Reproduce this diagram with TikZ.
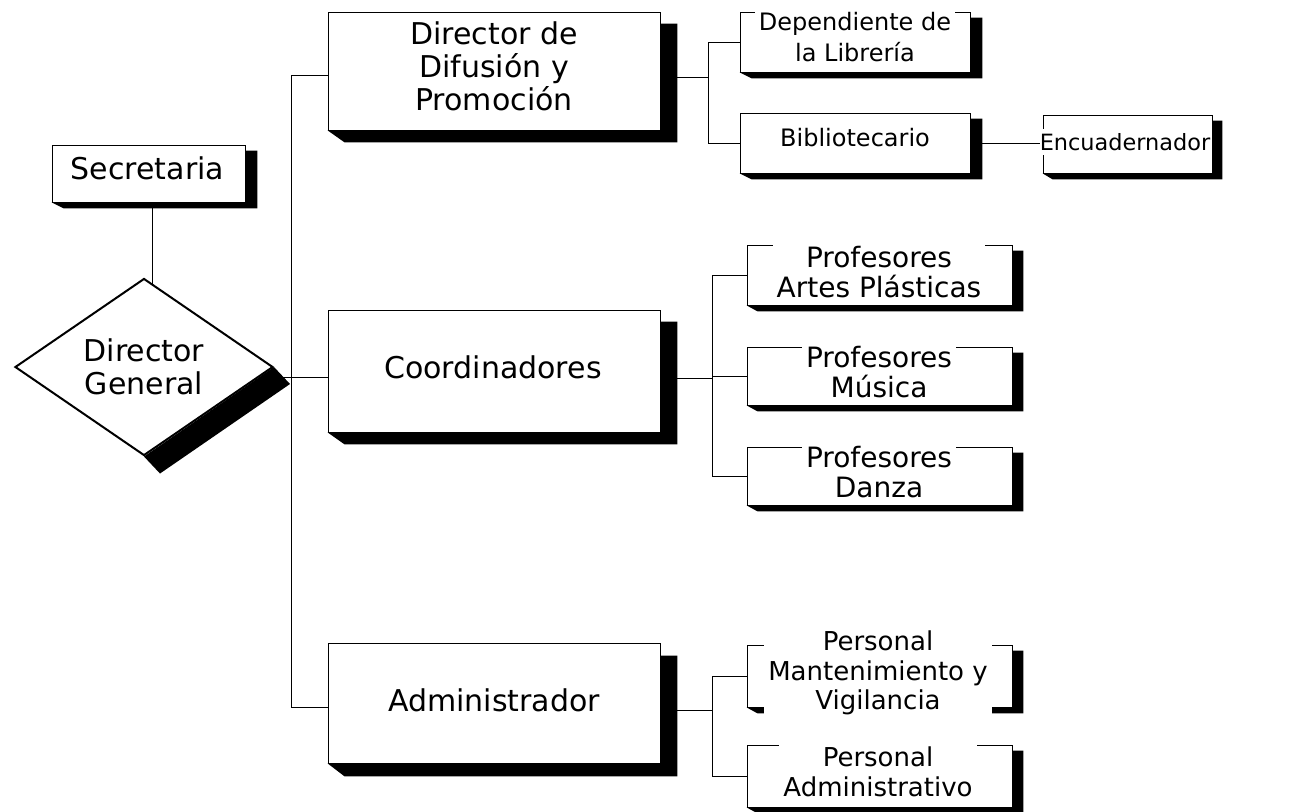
\documentclass[tikz,border=0pt]{standalone}
\usepackage{fontspec}
\setmainfont{DejaVu Sans}
\usetikzlibrary{shapes.geometric}
\pgfdeclarelayer{back}
\pgfdeclarelayer{bg}
\pgfsetlayers{back,bg,main}
\newcommand\boxshadow[3]{%
  \fill (#1.south west) -- ([shift={(#2,#3)}]#1.south west) -- ([shift={(#2,#3)}]#1.south east)
    -- ([shift={(#2,#3)}]#1.north east) -- ([shift={(0,#3)}]#1.north east) -- (#1.south east) -- cycle;}
\begin{document}
\begin{tikzpicture}[x=0.5pt,y=-0.5pt,line width=1.3pt,
  box/.style={draw,fill=white,inner sep=0pt},
  lbl/.style={fill=white,inner sep=2pt,align=center},
  bigf/.style={font=\fontsize{15}{16.5}\selectfont},
  smlf/.style={font=\fontsize{12}{15.5}\selectfont},
  prof/.style={font=\fontsize{14}{15}\selectfont},
  pers/.style={font=\fontsize{13}{14.75}\selectfont}]
\begin{pgfonlayer}{back}
\fill[white] (0,0) rectangle (1304,811);
\end{pgfonlayer}
\useasboundingbox (0,0) rectangle (1304,811);

% Secretaria
\node[box,minimum width=96.5pt,minimum height=28.5pt] (sec) at (148.5,173.5) {};
\boxshadow{sec}{12}{6}
\node[lbl,bigf] (sec-t) at (147.5,168) {Secretaria};

% Director General
\node[diamond,draw,fill=white,line width=1pt,aspect=1.45,minimum width=129pt,minimum height=88.5pt,
      inner sep=0pt,align=center,bigf] (dg) at (144,367) {Director\\General};
\fill (dg.east) -- ([shift={(16,17)}]dg.east) -- ([shift={(16,17)}]dg.south) -- (dg.south) -- cycle;

% big boxes
\node[box,minimum width=166pt,minimum height=59pt] (dif) at (494,71) {};
\boxshadow{dif}{17}{12}
\node[lbl,bigf] (dif-t) at (494,66.5) {Director de\\Difusión y\\Promoción};

\node[box,minimum width=166pt,minimum height=61pt] (coord) at (494,371) {};
\boxshadow{coord}{17}{12}
\node[lbl,bigf] (coord-t) at (493,367) {Coordinadores};

\node[box,minimum width=166pt,minimum height=60pt] (adm) at (494,703) {};
\boxshadow{adm}{17}{13}
\node[lbl,bigf] (adm-t) at (494,700) {Administrador};

% small boxes
\node[box,minimum width=115pt,minimum height=30pt] (dep) at (855,42) {};
\boxshadow{dep}{12}{6}
\node[lbl,smlf] (dep-t) at (855,37.5) {Dependiente de\\la Librería};

\node[box,minimum width=115pt,minimum height=30pt] (bib) at (855,143) {};
\boxshadow{bib}{12}{6}
\node[lbl,smlf] (bib-t) at (855,138) {Bibliotecario};

\node[box,minimum width=84.5pt,minimum height=29pt] (enc) at (1127.5,144) {};
\boxshadow{enc}{10}{6}
\node[lbl,inner xsep=0pt,font=\fontsize{11.2}{14}\selectfont] (enc-t) at (1125,142) {Encuadernador};

\node[box,minimum width=132.5pt,minimum height=30pt] (art) at (879.5,275) {};
\boxshadow{art}{11}{6}
\node[lbl,prof] (art-t) at (879,272) {Profesores\\Artes Plásticas};

\node[box,minimum width=132.5pt,minimum height=29pt] (mus) at (879.5,376) {};
\boxshadow{mus}{11}{6}
\node[lbl,prof] (mus-t) at (879,372.5) {Profesores\\Música};

\node[box,minimum width=132.5pt,minimum height=29pt] (dan) at (879.5,476) {};
\boxshadow{dan}{11}{6}
\node[lbl,prof] (dan-t) at (879,472) {Profesores\\Danza};

\node[box,minimum width=132.5pt,minimum height=31pt] (pm) at (879.5,676) {};
\boxshadow{pm}{11}{6}
\node[lbl,pers] (pm-t) at (878,673) {Personal\\Mantenimiento y\\Vigilancia};

\node[box,minimum width=132.5pt,minimum height=31pt] (pa) at (879.5,776) {};
\boxshadow{pa}{11}{6}
\node[lbl,pers] (pa-t) at (878,772) {Personal\\Administrativo};

% connectors
\begin{pgfonlayer}{bg}
\coordinate (tk) at (291,0);
\coordinate (sb1) at (708,0);
\coordinate (sb2) at (712,0);
\coordinate (d1) at ([yshift=-2pt]dif.west);
\coordinate (c1) at ([yshift=-3pt]coord.west);
\coordinate (a1) at ([yshift=-2pt]adm.west);
\coordinate (d2) at ([yshift=-3pt]dif.east);
\coordinate (c2) at ([yshift=-3.5pt]coord.east);
\coordinate (a2) at ([yshift=-3.5pt]adm.east);
\coordinate (s0) at ([xshift=2pt]sec.south);
\coordinate (s1) at (s0 |- dg.center);
\draw (s0) -- (s1);
\draw (d1) -- (d1 -| tk) -- (a1 -| tk) -- (a1);
\draw (dg.east |- c1) -- (c1);
\draw (d2) -- (d2 -| sb1);
\draw (dep.west) -- (dep.west -| sb1) -- (bib.west -| sb1) -- (bib.west);
\draw (bib.east) -- (bib.east -| enc.west);
\draw (c2) -- (c2 -| sb2);
\draw (art.west) -- (art.west -| sb2) -- (dan.west -| sb2) -- (dan.west);
\draw (mus.west -| sb2) -- (mus.west);
\draw (a2) -- (a2 -| sb2);
\draw (pm.west) -- (pm.west -| sb2) -- (pa.west -| sb2) -- (pa.west);
\end{pgfonlayer}
\end{tikzpicture}
\end{document}
